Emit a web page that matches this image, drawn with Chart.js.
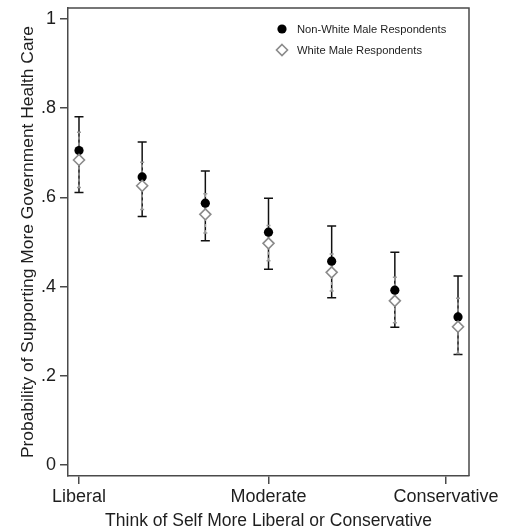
<!DOCTYPE html>
<html>
<head>
<meta charset="utf-8">
<script src="https://cdn.jsdelivr.net/npm/chart.js@4.4.1/dist/chart.umd.min.js"></script>
<style>
  html, body { margin: 0; padding: 0; background: #fff; }
  #wrap { width: 505px; height: 532px; }
</style>
</head>
<body>
<div id="wrap"><canvas id="c" width="505" height="532"></canvas></div>
<script>
// Ideology scale positions (1 = most liberal, 7 = most conservative)
const ideology = [1, 2, 3, 4, 5, 6, 7];

// Predicted probabilities with 95% confidence bounds
const nonWhiteMean = [0.705, 0.646, 0.587, 0.522, 0.457, 0.392, 0.332];
const nonWhiteLow  = [0.611, 0.557, 0.503, 0.439, 0.375, 0.309, 0.248];
const nonWhiteHigh = [0.781, 0.724, 0.659, 0.598, 0.536, 0.477, 0.424];

const whiteMean = [0.684, 0.626, 0.562, 0.497, 0.432, 0.368, 0.310];
const whiteLow  = [0.622, 0.573, 0.520, 0.458, 0.390, 0.319, 0.250];
const whiteHigh = [0.746, 0.679, 0.608, 0.537, 0.473, 0.421, 0.374];

const seriesLabels = ['Non-White Male Respondents', 'White Male Respondents'];

// Axis ticks
const xTickValues = [1, 4, 6.81];
const xTickLabels = ['Liberal', 'Moderate', 'Conservative'];
const yTickValues = [0, 0.2, 0.4, 0.6, 0.8, 1];
const yTickLabels = ['0', '.2', '.4', '.6', '.8', '1'];

const FONT = "'Liberation Sans', Arial, Helvetica, sans-serif";
const AXIS_COLOR = '#4a4a4a';
const TEXT_COLOR = '#1e1e1e';

// Confidence-interval whiskers drawn under the markers
const errorBars = {
  id: 'errorBars',
  beforeDatasetsDraw(chart) {
    const { ctx, scales: { x, y } } = chart;
    const draw = (lo, hi, cap, color, dash) => {
      ctx.save();
      ctx.strokeStyle = color;
      ctx.lineWidth = 1.5;
      ideology.forEach((v, i) => {
        const px = x.getPixelForValue(v);
        const y1 = y.getPixelForValue(lo[i]);
        const y2 = y.getPixelForValue(hi[i]);
        ctx.setLineDash(dash);
        ctx.beginPath();
        ctx.moveTo(px, y1);
        ctx.lineTo(px, y2);
        ctx.stroke();
        ctx.setLineDash([]);
        ctx.beginPath();
        ctx.moveTo(px - cap, y1); ctx.lineTo(px + cap, y1);
        ctx.moveTo(px - cap, y2); ctx.lineTo(px + cap, y2);
        ctx.stroke();
      });
      ctx.restore();
    };
    draw(nonWhiteLow, nonWhiteHigh, 4.5, '#111', []);
    draw(whiteLow, whiteHigh, 2, '#9a9a9a', [3, 3]);
  }
};

// Full box around the plotting region
const frame = {
  id: 'frame',
  beforeDatasetsDraw(chart) {
    const { ctx, chartArea: a } = chart;
    ctx.save();
    ctx.strokeStyle = AXIS_COLOR;
    ctx.lineWidth = 1.5;
    ctx.beginPath();
    ctx.moveTo(a.left, a.top);
    ctx.lineTo(a.right, a.top);
    ctx.lineTo(a.right, a.bottom);
    ctx.stroke();
    ctx.restore();
  }
};

// Key placed inside the plot, upper right
const insideLegend = {
  id: 'insideLegend',
  afterDatasetsDraw(chart) {
    const { ctx, chartArea: a } = chart;
    const markerX = a.left + 214;
    const textX = markerX + 15;
    const rows = [a.top + 21, a.top + 42];
    ctx.save();
    ctx.font = '11.2px ' + FONT;
    ctx.textBaseline = 'middle';
    chart.data.datasets.forEach((ds, i) => {
      const yy = rows[i];
      if (ds.pointStyle === 'circle') {
        ctx.beginPath();
        ctx.arc(markerX, yy, ds.pointRadius, 0, Math.PI * 2);
        ctx.fillStyle = ds.pointBackgroundColor;
        ctx.fill();
      } else {
        const r = ds.pointRadius;
        ctx.beginPath();
        ctx.moveTo(markerX, yy - r);
        ctx.lineTo(markerX + r, yy);
        ctx.lineTo(markerX, yy + r);
        ctx.lineTo(markerX - r, yy);
        ctx.closePath();
        ctx.fillStyle = ds.pointBackgroundColor;
        ctx.fill();
        ctx.strokeStyle = ds.pointBorderColor;
        ctx.lineWidth = ds.pointBorderWidth;
        ctx.stroke();
      }
      ctx.fillStyle = TEXT_COLOR;
      ctx.fillText(ds.label, textX, yy + 0.5);
    });
    ctx.restore();
  }
};

new Chart(document.getElementById('c'), {
  type: 'scatter',
  data: {
    datasets: [
      {
        label: seriesLabels[0],
        data: ideology.map((v, i) => ({ x: v, y: nonWhiteMean[i] })),
        pointStyle: 'circle',
        pointRadius: 4.6,
        pointBackgroundColor: '#000',
        pointBorderColor: '#000',
        pointBorderWidth: 0,
        order: 1
      },
      {
        label: seriesLabels[1],
        data: ideology.map((v, i) => ({ x: v, y: whiteMean[i] })),
        pointStyle: 'rectRot',
        pointRadius: 5.5,
        pointBackgroundColor: '#fff',
        pointBorderColor: '#8a8a8a',
        pointBorderWidth: 1.6,
        order: 0
      }
    ]
  },
  options: {
    responsive: false,
    animation: false,
    devicePixelRatio: 1,
    layout: { padding: { left: 18, top: 8, right: 36, bottom: 0 } },
    plugins: {
      legend: { display: false },
      tooltip: { enabled: false }
    },
    scales: {
      x: {
        type: 'linear',
        min: 0.826,
        max: 7.174,
        afterBuildTicks: s => { s.ticks = xTickValues.map(v => ({ value: v })); },
        afterFit: s => { s.height = 56; s.paddingLeft = 0; s.paddingRight = 0; },
        ticks: {
          autoSkip: false,
          maxRotation: 0,
          padding: 2,
          color: TEXT_COLOR,
          font: { family: FONT, size: 18 },
          callback: v => xTickLabels[xTickValues.indexOf(v)]
        },
        grid: { drawOnChartArea: false, drawTicks: true, tickLength: 8, color: AXIS_COLOR, lineWidth: 1.5 },
        border: { display: true, color: AXIS_COLOR, width: 1.5 },
        title: {
          display: true,
          text: 'Think of Self More Liberal or Conservative',
          color: TEXT_COLOR,
          font: { family: FONT, size: 17.5 },
          padding: { top: 0, bottom: 0 }
        }
      },
      y: {
        type: 'linear',
        min: -0.0247,
        max: 1.0247,
        afterBuildTicks: s => { s.ticks = yTickValues.map(v => ({ value: v })); },
        afterFit: s => { s.width = 50; s.paddingTop = 0; s.paddingBottom = 0; },
        ticks: {
          autoSkip: false,
          padding: 4,
          color: TEXT_COLOR,
          font: { family: FONT, size: 18 },
          callback: v => yTickLabels[yTickValues.indexOf(v)]
        },
        grid: { drawOnChartArea: false, drawTicks: true, tickLength: 8, color: AXIS_COLOR, lineWidth: 1.5 },
        border: { display: true, color: AXIS_COLOR, width: 1.5 },
        title: {
          display: true,
          text: 'Probability of Supporting More Government Health Care',
          color: TEXT_COLOR,
          font: { family: FONT, size: 17.4 },
          padding: { top: 0, bottom: 0 }
        }
      }
    }
  },
  plugins: [frame, errorBars, insideLegend]
});
</script>
</body>
</html>
